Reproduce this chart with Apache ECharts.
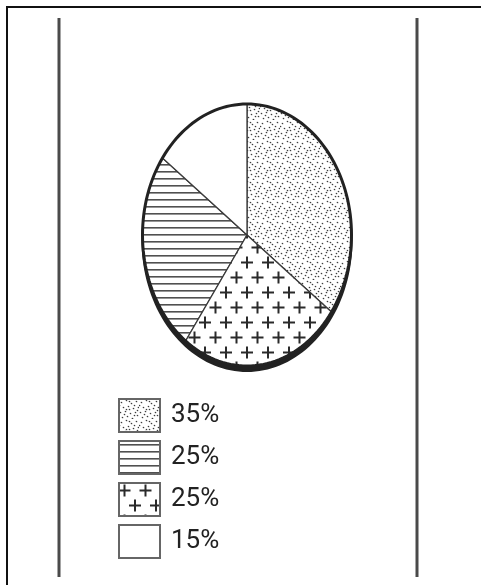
<!DOCTYPE html>
<html>
<head>
<meta charset="utf-8">
<script src="https://cdn.jsdelivr.net/npm/echarts@6/dist/echarts.min.js"></script>
<style>
html,body{margin:0;padding:0;background:#fff;}
#chart{width:481px;height:585px;}
</style>
</head>
<body>
<div id="chart"></div>
<script>
// ---- data ----
const categories = ['dots', 'hlines', 'crosses', 'blank'];   // legend order
const labels = ['35%', '25%', '25%', '15%'];                 // legend texts
const values = [35, 25, 25, 15];
const sliceOrder = [0, 2, 1, 3];                            // clockwise from 12 o'clock

// ---- patterns ----
function makeTile(w, h, draw) {
  const c = document.createElement('canvas');
  c.width = w; c.height = h;
  const ctx = c.getContext('2d');
  ctx.fillStyle = '#ffffff';
  ctx.fillRect(0, 0, w, h);
  draw(ctx);
  return { image: c, repeat: 'repeat' };
}
const patterns = {
  dots: makeTile(20, 20, ctx => {
    const pts = [[2,3],[7,1],[12,4],[17,2],[4,8],[9,7],[14,9],[19,8],[1,13],[6,12],[11,14],[16,13],[3,18],[8,17],[13,19],[18,16],[10,10],[0,6],[15,16],[5,15],[10,2],[15,6],[7,10],[18,11]];
    ctx.fillStyle = 'rgba(35,35,35,0.9)';
    pts.forEach(p => { ctx.beginPath(); ctx.ellipse(p[0] + 0.5, p[1] + 0.5, 0.9, 0.7, 0.5, 0, Math.PI * 2); ctx.fill(); });
  }),
  hlines: makeTile(4, 7, ctx => {
    ctx.fillStyle = '#505050';
    ctx.fillRect(0, 3, 4, 1.6);
  }),
  crosses: makeTile(21, 30, ctx => {
    ctx.strokeStyle = '#2a2a2a';
    ctx.lineWidth = 2;
    const plus = (x, y) => {
      ctx.beginPath();
      ctx.moveTo(x - 6, y); ctx.lineTo(x + 6, y);
      ctx.moveTo(x, y - 6); ctx.lineTo(x, y + 6);
      ctx.stroke();
    };
    plus(5.5, 7.5); plus(16, 22.5); plus(26.5, 7.5); plus(-5, 22.5);
  }),
  blank: makeTile(4, 4, () => {})
};

const total = values.reduce((a, b) => a + b, 0);
const STEPS = 80;

function slicePoints(api, startFrac, endFrac) {
  const pts = [api.coord([0, 0])];
  const a0 = startFrac * Math.PI * 2, a1 = endFrac * Math.PI * 2;
  const n = Math.max(2, Math.ceil(STEPS * (endFrac - startFrac)) + 1);
  for (let k = 0; k <= n; k++) {
    const a = a0 + (a1 - a0) * k / n;
    pts.push(api.coord([Math.sin(a), Math.cos(a)]));
  }
  return pts;
}
function ellipsePoints(api, dy) {
  const pts = [];
  for (let k = 0; k < 160; k++) {
    const a = k / 160 * Math.PI * 2;
    const p = api.coord([Math.sin(a), Math.cos(a)]);
    pts.push([p[0], p[1] + dy]);
  }
  return pts;
}

const starts = {};
let acc = 0;
sliceOrder.forEach(i => { starts[i] = acc / total; acc += values[i]; });

const sliceSeries = values.map((v, i) => {
  const start = starts[i];
  const end = start + v / total;
  const pat = patterns[categories[i]];
  return {
    type: 'custom',
    name: categories[i],
    coordinateSystem: 'cartesian2d',
    z: 3,
    silent: true,
    itemStyle: { color: pat, borderColor: '#555', borderWidth: 2 },
    data: [[v]],
    renderItem: (params, api) => ({
      type: 'polygon',
      shape: { points: slicePoints(api, start, end) },
      style: { fill: pat, stroke: '#3a3a3a', lineWidth: 1.3 }
    })
  };
});

const option = {
  animation: false,
  backgroundColor: '#ffffff',
  grid: { left: 142.5, top: 104, width: 209, height: 262 },
  xAxis: { type: 'value', min: -1, max: 1, show: false },
  yAxis: { type: 'value', min: -1, max: 1, show: false },
  legend: {
    data: categories,
    orient: 'vertical',
    left: 113,
    top: 393,
    itemWidth: 41,
    itemHeight: 33,
    itemGap: 7,
    icon: 'rect',
    selectedMode: false,
    formatter: name => labels[categories.indexOf(name)],
    itemStyle: { borderColor: '#666', borderWidth: 2 },
    textStyle: { fontSize: 26, color: '#222', fontFamily: 'Roboto, Arial, sans-serif', padding: [7, 0, 0, 6] }
  },
  graphic: [
    { type: 'line', shape: { x1: 6, y1: 7, x2: 481, y2: 7 }, style: { stroke: '#111', lineWidth: 2 } },
    { type: 'line', shape: { x1: 7, y1: 6, x2: 7, y2: 585 }, style: { stroke: '#111', lineWidth: 2 } },
    { type: 'line', shape: { x1: 59, y1: 18, x2: 59, y2: 577 }, style: { stroke: '#4a4a4a', lineWidth: 3 } },
    { type: 'line', shape: { x1: 417, y1: 18, x2: 417, y2: 577 }, style: { stroke: '#4a4a4a', lineWidth: 3 } }
  ],
  series: [
    {
      type: 'custom',
      name: 'shadow',
      coordinateSystem: 'cartesian2d',
      z: 1,
      silent: true,
      data: [[0]],
      renderItem: (params, api) => ({
        type: 'polygon',
        shape: { points: ellipsePoints(api, 5) },
        style: { fill: '#222', stroke: '#222', lineWidth: 2 }
      })
    },
    ...sliceSeries,
    {
      type: 'custom',
      name: 'outline',
      coordinateSystem: 'cartesian2d',
      z: 5,
      silent: true,
      data: [[0]],
      renderItem: (params, api) => ({
        type: 'polygon',
        shape: { points: ellipsePoints(api, 0) },
        style: { fill: 'none', stroke: '#222', lineWidth: 3 }
      })
    }
  ]
};

const chart = echarts.init(document.getElementById('chart'), null, { renderer: 'canvas' });
chart.setOption(option);
</script>
</body>
</html>
